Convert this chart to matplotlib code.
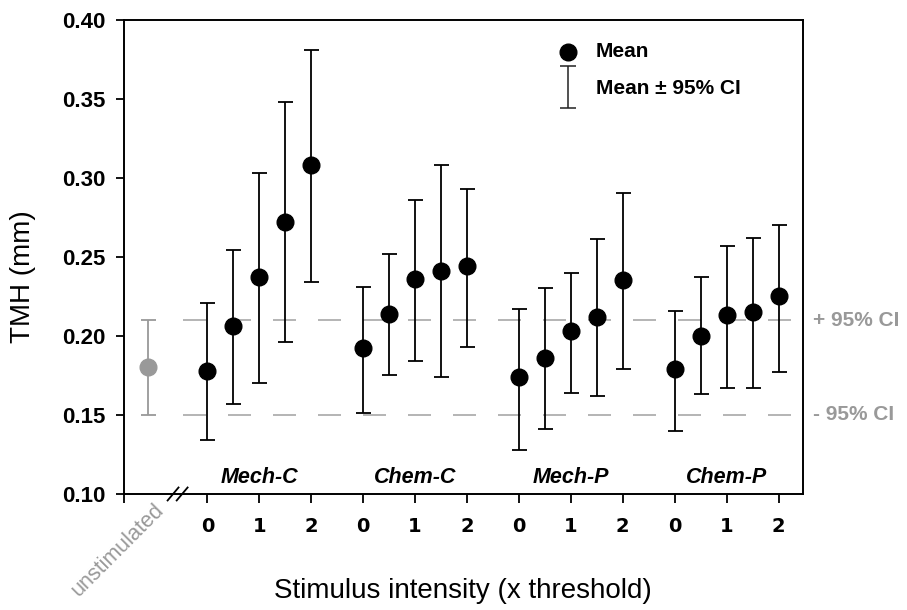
import numpy as np
import matplotlib
matplotlib.use('Agg')
import matplotlib.pyplot as plt
import matplotlib.transforms as mtransforms

plt.rcParams['font.family'] = ['Liberation Sans', 'DejaVu Sans']

# data (TMH in mm, mean and 95% CI limits)
groups = ['Mech-C', 'Chem-C', 'Mech-P', 'Chem-P']
intensity = [0, 0.5, 1, 1.5, 2]
mean = [
    [0.178, 0.206, 0.237, 0.272, 0.308],
    [0.192, 0.214, 0.236, 0.241, 0.244],
    [0.174, 0.186, 0.203, 0.212, 0.235],
    [0.179, 0.200, 0.213, 0.215, 0.225],
]
ci_hi = [
    [0.221, 0.254, 0.303, 0.348, 0.381],
    [0.231, 0.252, 0.286, 0.308, 0.293],
    [0.217, 0.230, 0.240, 0.261, 0.290],
    [0.216, 0.237, 0.257, 0.262, 0.270],
]
ci_lo = [
    [0.134, 0.157, 0.170, 0.196, 0.234],
    [0.151, 0.175, 0.184, 0.174, 0.193],
    [0.128, 0.141, 0.164, 0.162, 0.179],
    [0.140, 0.163, 0.167, 0.167, 0.177],
]
unstim_mean = 0.180
unstim_lo = 0.150
unstim_hi = 0.210
tick_labels = ['0', '1', '2']

fig = plt.figure(figsize=(9.07, 6.10), dpi=100)
ax = fig.add_axes([0.1367, 0.1902, 0.7483, 0.7778])

step = 2  # half-tick units per intensity 1
gap = 6
xlim = (-3.21, 22.93)
x_unstim = -2.28

# unstimulated CI reference lines
for yv in [unstim_hi, unstim_lo]:
    ax.plot([-0.94, 22.63], [yv, yv], color='#a8a8a8', lw=1.2,
            linestyle=(0, (13.8, 13.2)), zorder=1)

# unstimulated point
ax.errorbar([x_unstim], [unstim_mean],
            yerr=[[unstim_mean - unstim_lo], [unstim_hi - unstim_mean]],
            fmt='o', color='#999999', ms=12, capsize=5.4, elinewidth=1.3,
            capthick=1.3, zorder=3)

ticks = []
labels = []
for g in range(len(groups)):
    xs = np.array(intensity) * step + g * gap
    m = np.array(mean[g])
    lo = m - np.array(ci_lo[g])
    hi = np.array(ci_hi[g]) - m
    ax.errorbar(xs, m, yerr=[lo, hi], fmt='o', color='black', ms=12,
                capsize=5.4, elinewidth=1.3, capthick=1.3, zorder=3)
    ax.text(xs[2], 0.1107, groups[g], ha='center', va='center',
            fontsize=15.5, fontstyle='italic', fontweight='bold')
    ticks += [xs[0], xs[2], xs[4]]
    labels += tick_labels

ax.set_xlim(*xlim)
ax.set_ylim(0.10, 0.40)
ax.set_xticks([xlim[0]] + ticks)
ax.set_xticklabels([''] + labels, fontfamily='DejaVu Sans', fontweight='bold',
                   fontsize=14)
ax.set_yticks(np.arange(0.10, 0.401, 0.05))
ax.set_yticklabels([f'{v:.2f}' for v in np.arange(0.10, 0.401, 0.05)],
                   fontweight='bold', fontsize=16)
ax.tick_params(axis='x', direction='out', length=6.5, width=1.3, pad=10)
ax.tick_params(axis='y', direction='out', length=6, width=1.3, pad=7)
for sp in ax.spines.values():
    sp.set_linewidth(1.4)

# axis break marker
for xb in [-1.32, -0.97]:
    ax.plot([xb - 0.21, xb + 0.21], [0.0959, 0.1041], color='black', lw=1.3,
            clip_on=False, zorder=5)

trans = mtransforms.blended_transform_factory(ax.transData, ax.transAxes)
ax.text(-1.5, -0.012, 'unstimulated', rotation=45, ha='right', va='top',
        color='#999999', fontsize=15.5, transform=trans)

# CI labels on right
rtrans = mtransforms.blended_transform_factory(ax.transAxes, ax.transData)
ax.text(1.015, unstim_hi, '+ 95% CI', color='#999999', fontsize=15,
        fontweight='bold', va='center', ha='left', transform=rtrans)
ax.text(1.015, unstim_lo, '- 95% CI', color='#999999', fontsize=15,
        fontweight='bold', va='center', ha='left', transform=rtrans)

# legend
ax.plot([0.654], [0.932], 'o', color='black', ms=12, transform=ax.transAxes,
        clip_on=False)
ax.errorbar([0.654], [0.858], yerr=[0.0449], fmt='none', ecolor='#222222',
            elinewidth=1.1, capsize=5.8, capthick=1.1, transform=ax.transAxes)
ax.text(0.695, 0.932, 'Mean', fontsize=15, fontweight='bold', va='center',
        transform=ax.transAxes)
ax.text(0.695, 0.855, 'Mean \u00b1 95% CI', fontsize=15, fontweight='bold',
        va='center', transform=ax.transAxes)

ax.set_xlabel('Stimulus intensity (x threshold)', fontsize=20, labelpad=30)
ax.set_ylabel('TMH (mm)', fontsize=20, va='center')
ax.yaxis.set_label_coords(-0.149, 0.459)

fig.savefig('out.png', dpi=100)
